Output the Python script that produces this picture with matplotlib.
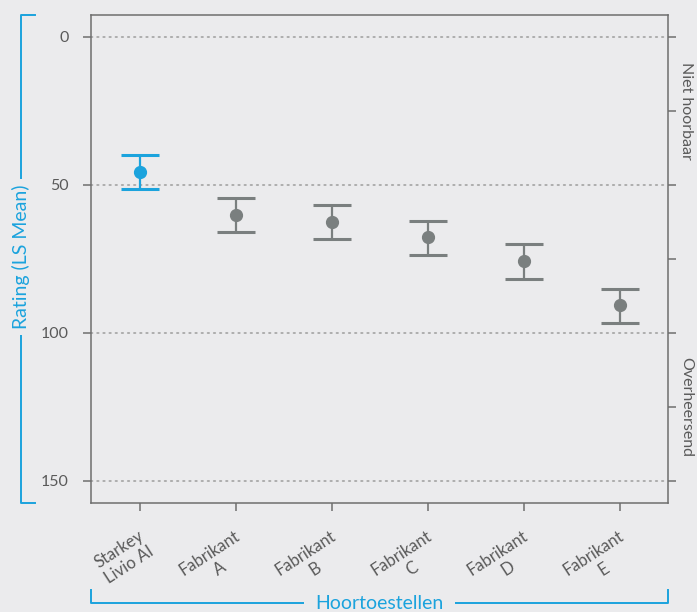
import matplotlib
matplotlib.use("Agg")
import matplotlib.pyplot as plt
from matplotlib.lines import Line2D
import matplotlib.transforms as mtransforms
import numpy as np

# ---- data ----
categories = ["Starkey\nLivio AI", "Fabrikant\nA", "Fabrikant\nB", "Fabrikant\nC", "Fabrikant\nD", "Fabrikant\nE"]
means = [45.6, 60.2, 62.5, 67.6, 75.8, 90.7]
lower = [40.0, 54.6, 56.9, 62.2, 70.1, 85.1]
upper = [51.6, 66.1, 68.4, 73.6, 81.8, 96.6]
y_ticks = [0, 50, 100, 150]
right_ticks = [0, 25, 50, 75, 100, 125, 150]
right_labels = [(25, "Niet hoorbaar"), (125, "Overheersend")]
y_label = "Rating (LS Mean)"
x_label = "Hoortoestellen"

BG = "#ebebed"
BLUE = "#1ba3dd"
GRAY = "#7a7f7f"
SPINE = "#6e6e6e"
TXT = "#5a5a5a"
GRID = "#a8a8a8"

plt.rcParams['font.family'] = ['Lato', 'DejaVu Sans']

W, H = 697, 612
fig = plt.figure(figsize=(W / 100, H / 100), dpi=100, facecolor=BG)
L, R, T, B = 90.7, 668, 14.7, 502.7
ax = fig.add_axes([L / W, 1 - B / H, (R - L) / W, (B - T) / H], facecolor=BG)

x = np.arange(len(categories))
for i in range(len(categories)):
    c = BLUE if i == 0 else GRAY
    ax.errorbar(x[i], means[i],
                yerr=[[means[i] - lower[i]], [upper[i] - means[i]]],
                fmt='o', color=c, ecolor=c, markersize=8.5, elinewidth=1.6,
                capsize=14, capthick=2.2, zorder=3)

for yv in y_ticks:
    ax.axhline(yv, color=GRID, lw=1.3, linestyle=(0, (0.8, 2.6)),
               dash_capstyle='round', zorder=1)

ax.set_xlim(-0.514, 5.5)
ax.set_ylim(157.4, -7.43)
ax.set_yticks(y_ticks)
ax.set_yticklabels([str(v) for v in y_ticks], fontsize=11.5, color=TXT)
ax.set_xticks(x)
ax.set_xticklabels(categories, fontsize=12, color=TXT, rotation=33,
                   ha='right', va='top', rotation_mode='anchor',
                   multialignment='center')
ax.tick_params(axis='both', length=6, width=1.1, color=SPINE, direction='out')
ax.tick_params(axis='y', pad=10)
ax.tick_params(axis='x', pad=12)
offset = mtransforms.ScaledTranslation(-2 / 100, 0, fig.dpi_scale_trans)
for lab in ax.get_xticklabels():
    lab.set_transform(lab.get_transform() + offset)

for s in ax.spines.values():
    s.set_color(SPINE)
    s.set_linewidth(1.1)

ax2 = ax.twinx()
ax2.set_ylim(ax.get_ylim())
ax2.set_yticks(right_ticks)
ax2.set_yticklabels([])
ax2.tick_params(axis='y', length=6, width=1.1, color=SPINE, direction='out')
for s in ax2.spines.values():
    s.set_visible(False)
for yv, lab in right_labels:
    ax2.text(1.0 + 18 / (R - L), yv, lab, transform=ax2.get_yaxis_transform(),
             rotation=-90, ha='center', va='center', fontsize=11.5, color=TXT)

def fx(px):
    return px / W

def fy(py):
    return 1 - py / H

# left bracket
bx, cap = 21, 35
fig.add_artist(Line2D([fx(cap), fx(bx), fx(bx), fx(cap)],
                      [fy(T), fy(T), fy(B), fy(B)], color=BLUE, lw=1.4))
fig.text(fx(bx), fy(257), y_label, rotation=90, ha='center', va='center',
         fontsize=14, color=BLUE,
         bbox=dict(facecolor=BG, edgecolor='none', pad=4))

# bottom bracket
by, ctop = 603.3, 590
fig.add_artist(Line2D([fx(L), fx(L), fx(R), fx(R)],
                      [fy(ctop), fy(by), fy(by), fy(ctop)], color=BLUE, lw=1.4))
fig.text(fx((L + R) / 2), fy(by), x_label, ha='center', va='center',
         fontsize=14, color=BLUE,
         bbox=dict(facecolor=BG, edgecolor='none', pad=8))

fig.savefig("out.png", dpi=100, facecolor=BG)
